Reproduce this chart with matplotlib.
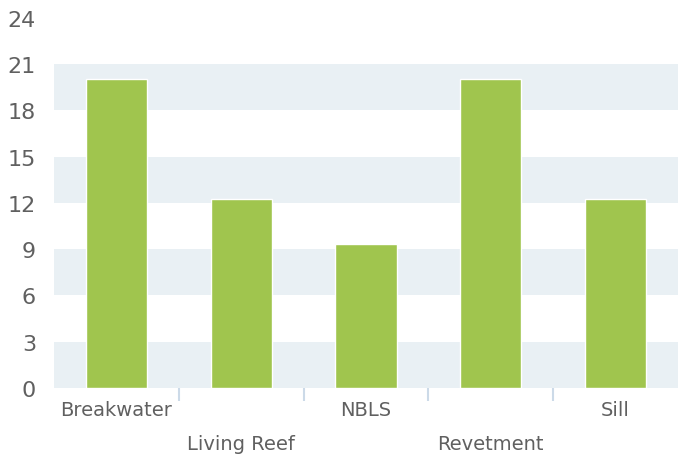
import matplotlib
matplotlib.use("Agg")
import matplotlib.pyplot as plt
from matplotlib.transforms import blended_transform_factory

categories = ["Breakwater", "Living Reef", "NBLS", "Revetment", "Sill"]
values = [20, 12.25, 9.33, 20, 12.25]
y_ticks = [0, 3, 6, 9, 12, 15, 18, 21, 24]

fig = plt.figure(figsize=(6.78, 4.6), dpi=100)
ax = fig.add_axes([54/678, 71/460, 1 - 54/678, (389 - 18.6)/460])

for i in range(0, len(y_ticks) - 1, 2):
    ax.axhspan(y_ticks[i], y_ticks[i + 1], color="#E9F0F4", zorder=0, lw=0)

x = list(range(len(categories)))
ax.bar(x, values, width=0.49, color="#A0C54E", edgecolor="white", linewidth=1, zorder=2)

ax.set_xlim(-0.5, len(categories) - 0.5)
ax.set_ylim(0, 24)
ax.set_yticks(y_ticks)
ax.set_yticklabels([str(t) for t in y_ticks], fontsize=16, color="#606060")
ax.tick_params(axis="y", length=0, pad=13)

ax.set_xticks([i + 0.5 for i in range(len(categories) - 1)])
ax.set_xticklabels([])
ax.tick_params(axis="x", length=9, width=1.5, color="#CCDAE8", direction="out")

for s in ax.spines.values():
    s.set_visible(False)

trans = blended_transform_factory(ax.transData, fig.transFigure)
for i, c in enumerate(categories):
    ypix = 411 if i % 2 == 0 else 445
    ax.text(i, 1 - ypix / 460, c, transform=trans, ha="center", va="center",
            fontsize=14, color="#606060")

fig.savefig("out.png", dpi=100)
